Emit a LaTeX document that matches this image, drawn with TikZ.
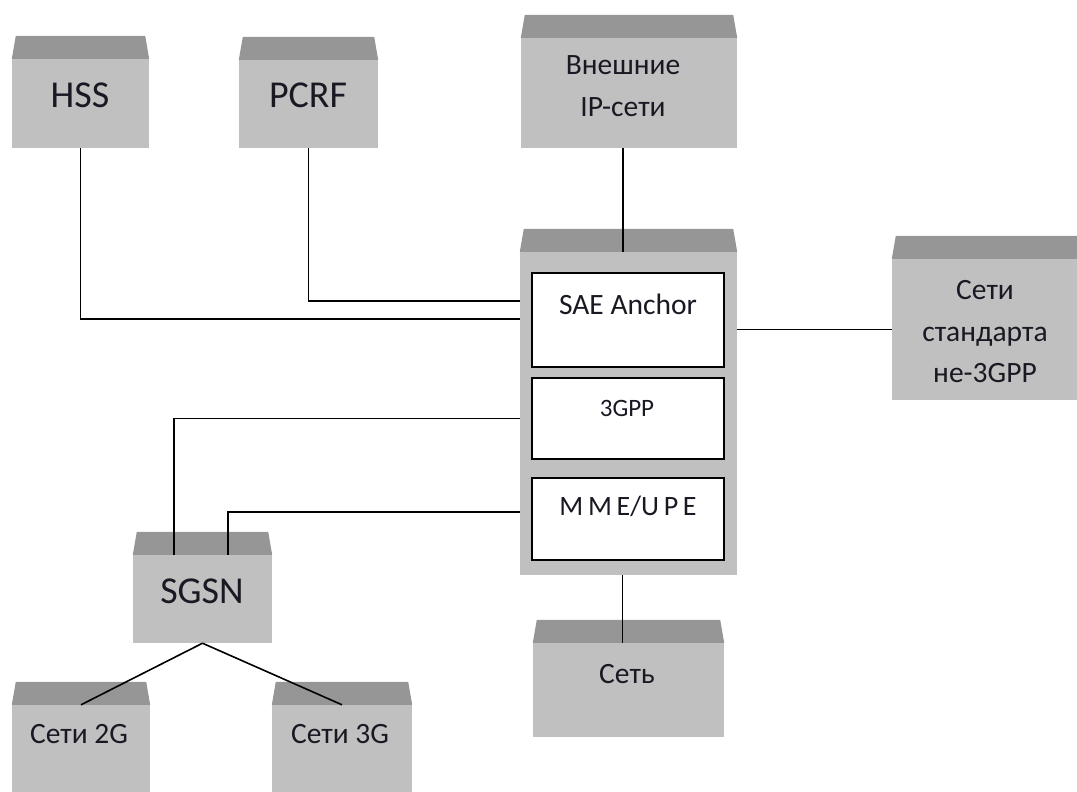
\documentclass[tikz,border=0pt]{standalone}
\usepackage{fontspec}
\setmainfont{Carlito}
\usetikzlibrary{fit}
\definecolor{lidc}{RGB}{150,150,150}
\definecolor{bodyc}{RGB}{192,192,192}
\definecolor{txtc}{RGB}{25,25,35}
\tikzset{
  body/.style={fill=bodyc, draw=none, inner sep=0pt},
  inner/.style={fill=white, draw=black, line width=1.5pt, inner sep=0pt},
  conn/.style={draw=black, line width=1.6pt},
  bigtxt/.style={font=\fontsize{38}{42}\selectfont, text=txtc, inner sep=0pt},
  txt/.style={font=\fontsize{29.5}{41.5}\selectfont, text=txtc, align=center, inner sep=0pt},
  smalltxt/.style={font=\fontsize{25}{30}\selectfont, text=txtc, inner sep=0pt},
  mmetxt/.style={font=\fontsize{28}{30}\selectfont, text=txtc, inner sep=0pt},
}
\newcommand{\mkbox}[5]{%
  \node[body, fit={(#2,#3) (#4,#5)}] (#1) {};
  \fill[lidc] (#1.north west) -- ([xshift=4pt,yshift=23pt]#1.north west)
     -- ([xshift=-4pt,yshift=23pt]#1.north east) -- (#1.north east) -- cycle;}
\begin{document}
\begin{tikzpicture}[x=1pt,y=-1pt]
\useasboundingbox (0,0) rectangle (1077,792);
\clip (0,0) rectangle (1077,792);
% boxes
\mkbox{hss}{12}{59}{149}{148}
\mkbox{pcrf}{239}{60}{378}{148}
\mkbox{ipnet}{521}{38}{737}{148}
\mkbox{core}{520}{252}{737}{575}
\mkbox{non3gpp}{892}{259}{1081}{400}
\mkbox{sgsn}{133}{555}{272}{643}
\mkbox{net2g}{12}{705}{150}{800}
\mkbox{net3g}{272}{705}{412}{800}
\mkbox{net}{533}{643}{724}{737}
% inner boxes
\node[inner, fit={(532,273) (724,367)}] (sae) {};
\node[inner, fit={(532,378) (724,459)}] (gpp) {};
\node[inner, fit={(532,478) (724,560)}] (mme) {};
% texts
\node[bigtxt] (hssT) at (80,95) {HSS};
\node[bigtxt] (pcrfT) at (308,95) {PCRF};
\node[bigtxt] (sgsnT) at (202,591) {SGSN};
\node[txt] (ipnetT) at (623,86) {Внешние\\IP-сети};
\node[txt] (saeT) at (628,304) {SAE Anchor};
\node[smalltxt] (gppT) at (627,408) {3GPP};
\node[mmetxt] (mmeT) at (628,506) {M\,M\,E/U\,P\,E};
\node[txt] (non3gppT) at (985,332) {Сети\\стандарта\\не-3GPP};
\node[txt] (net2gT) at (79,734) {Сети 2G};
\node[txt] (net3gT) at (340,734) {Сети 3G};
\node[txt] (netT) at (627,674) {Сеть};
% connectors
\draw[conn] ([xshift=-6pt]ipnet.south) -- ([xshift=-6pt]ipnet.south |- core.north);
\draw[conn] (pcrf.south) |- ([yshift=-49pt]core.north west);
\draw[conn] (hss.south) |- ([yshift=-67pt]core.north west);
\draw[conn] (non3gpp.west -| core.east) -- (non3gpp.west);
\draw[conn] (gpp.west -| core.west) -| ([xshift=41pt]sgsn.north west);
\draw[conn] ([yshift=-260pt]core.north west) -| ([xshift=95pt]sgsn.north west);
\draw[conn] ([xshift=-6pt]core.south) -- ([xshift=-6pt]net.north);
\draw[conn] (sgsn.south) -- (net2g.north);
\draw[conn] (sgsn.south) -- (net3g.north);
\end{tikzpicture}
\end{document}
